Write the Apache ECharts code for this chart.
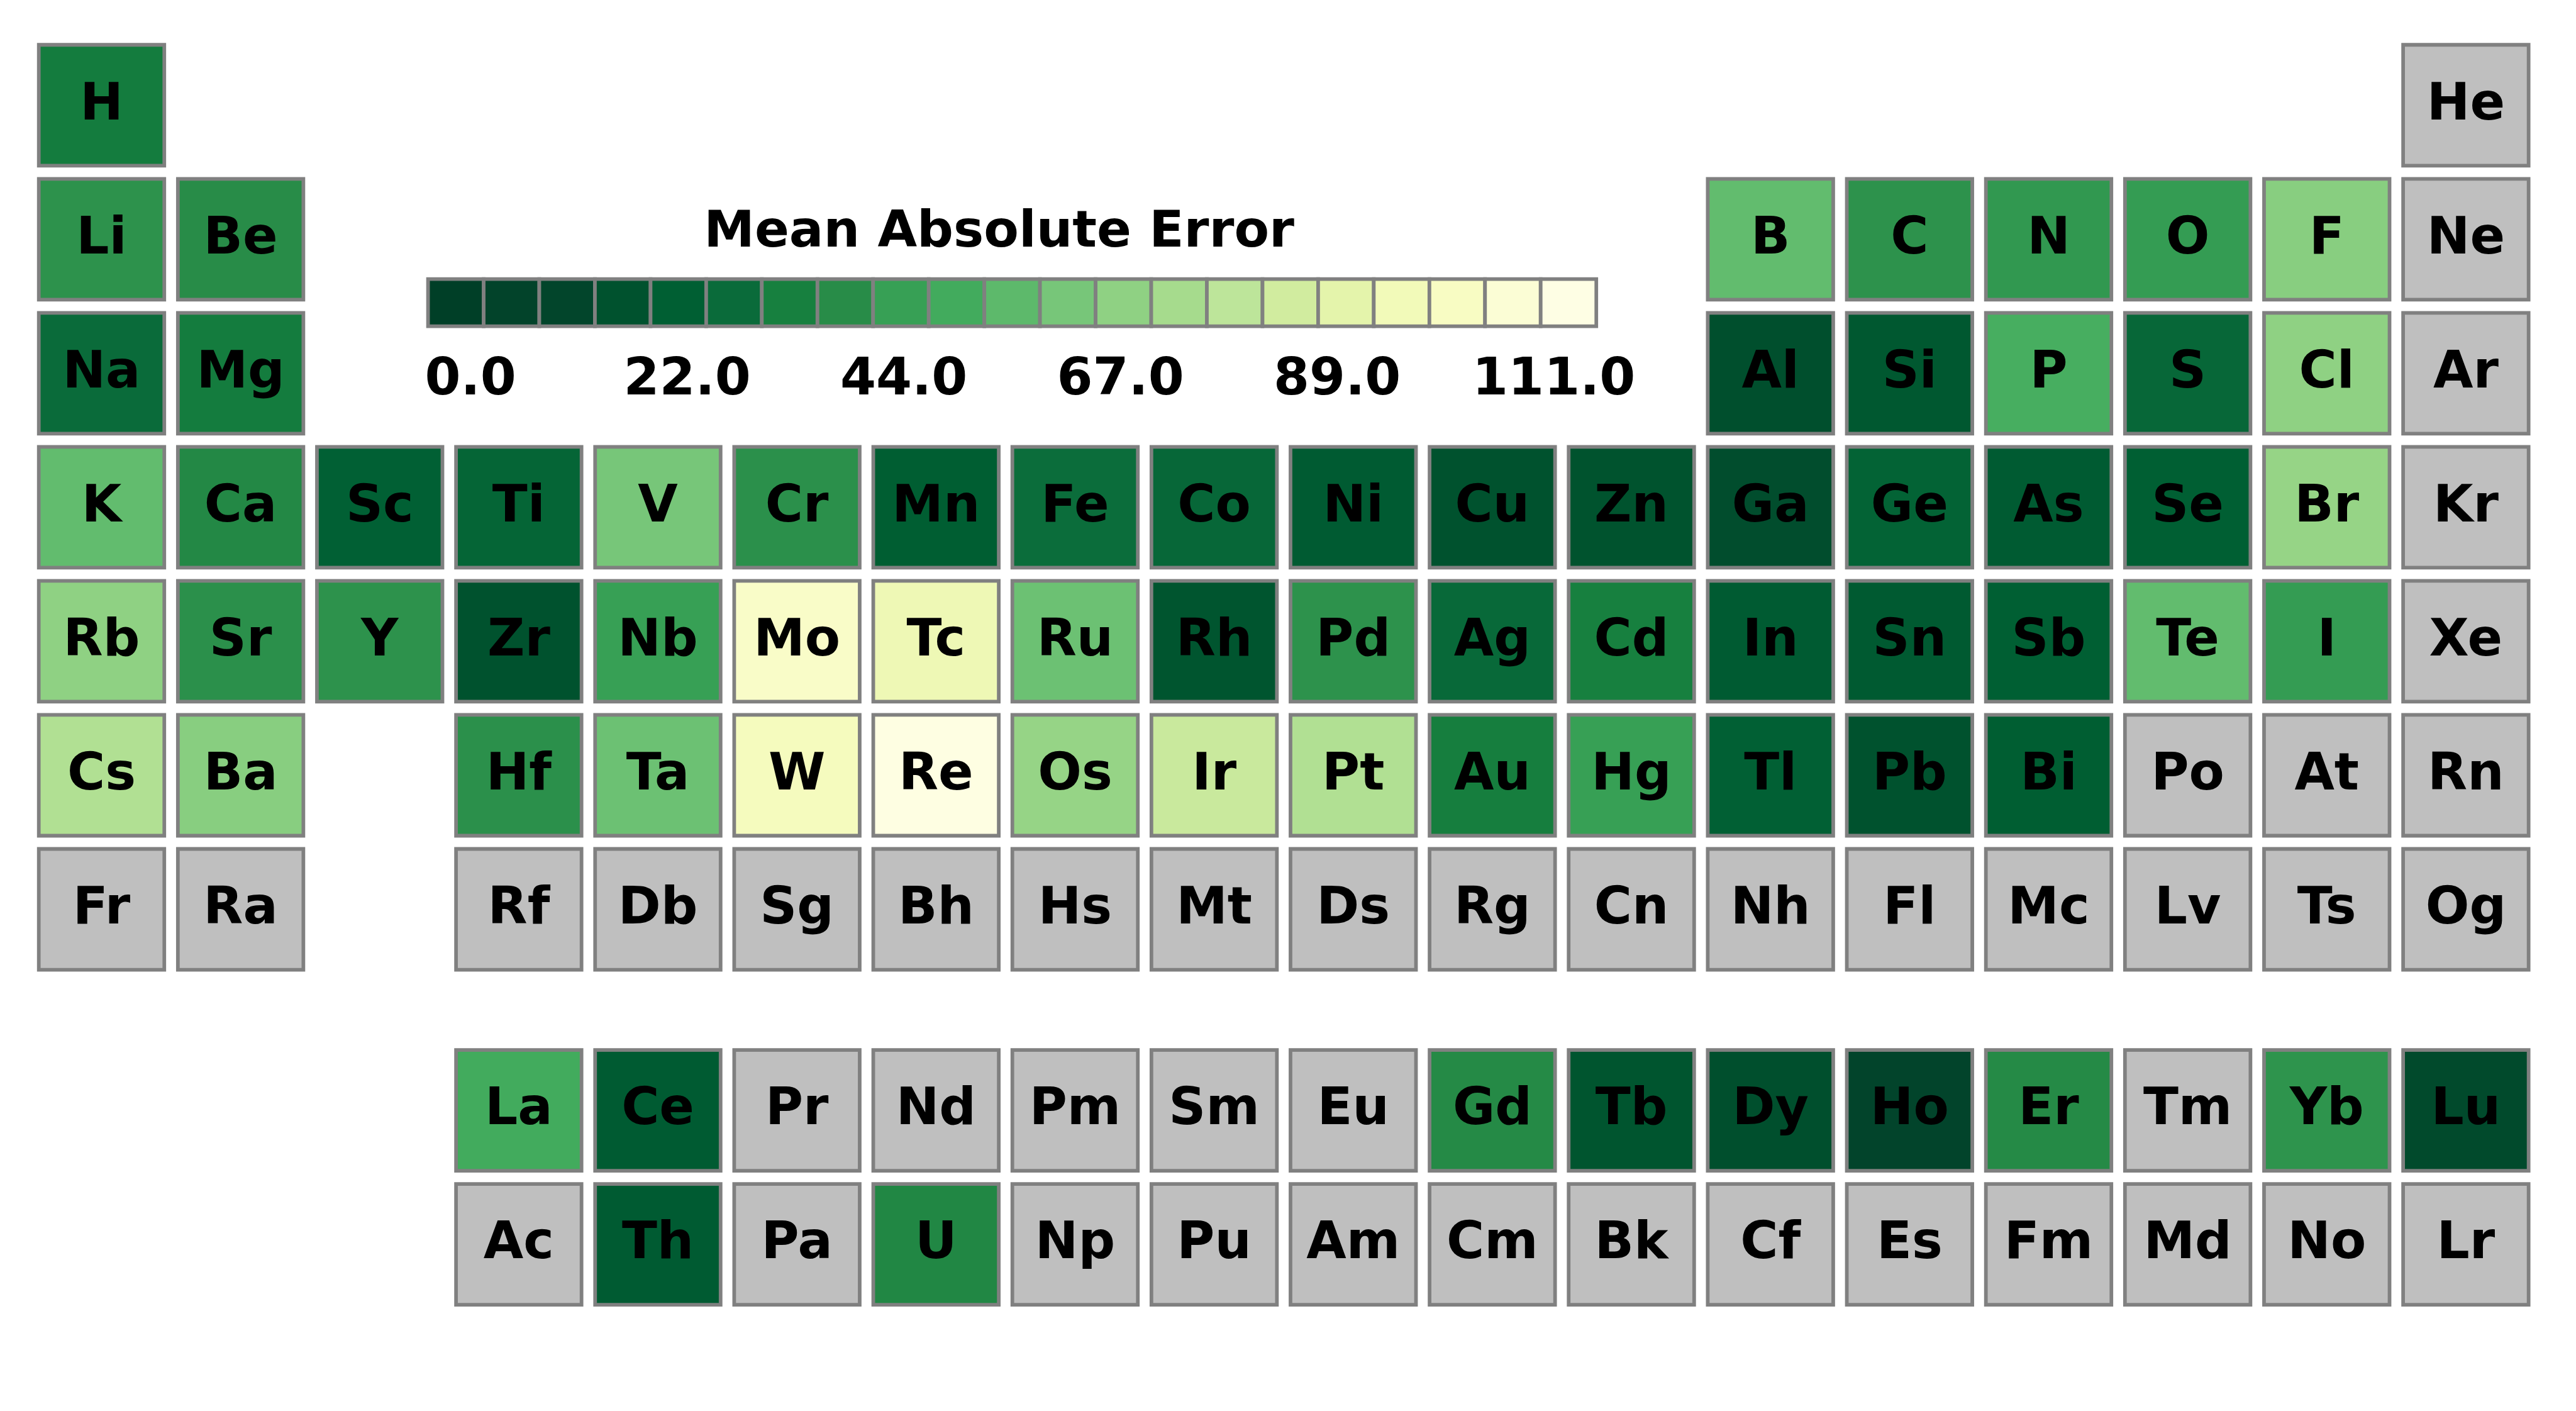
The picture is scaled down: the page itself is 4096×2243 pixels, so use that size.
<!DOCTYPE html>
<html>
<head>
<meta charset="utf-8">
<script src="https://cdn.jsdelivr.net/npm/echarts@6/dist/echarts.min.js"></script>
<style>
html,body{margin:0;padding:0;background:#fff;}
#chart{width:4096px;height:2243px;}
</style>
</head>
<body>
<div id="chart"></div>
<script>
// ---------- data ----------
const symbols = [
  'H','He',
  'Li','Be','B','C','N','O','F','Ne',
  'Na','Mg','Al','Si','P','S','Cl','Ar',
  'K','Ca','Sc','Ti','V','Cr','Mn','Fe','Co','Ni','Cu','Zn','Ga','Ge','As','Se','Br','Kr',
  'Rb','Sr','Y','Zr','Nb','Mo','Tc','Ru','Rh','Pd','Ag','Cd','In','Sn','Sb','Te','I','Xe',
  'Cs','Ba','Hf','Ta','W','Re','Os','Ir','Pt','Au','Hg','Tl','Pb','Bi','Po','At','Rn',
  'Fr','Ra','Rf','Db','Sg','Bh','Hs','Mt','Ds','Rg','Cn','Nh','Fl','Mc','Lv','Ts','Og',
  'La','Ce','Pr','Nd','Pm','Sm','Eu','Gd','Tb','Dy','Ho','Er','Tm','Yb','Lu',
  'Ac','Th','Pa','U','Np','Pu','Am','Cm','Bk','Cf','Es','Fm','Md','No','Lr'
];
const groups = [
  0,17,
  0,1,12,13,14,15,16,17,
  0,1,12,13,14,15,16,17,
  0,1,2,3,4,5,6,7,8,9,10,11,12,13,14,15,16,17,
  0,1,2,3,4,5,6,7,8,9,10,11,12,13,14,15,16,17,
  0,1,3,4,5,6,7,8,9,10,11,12,13,14,15,16,17,
  0,1,3,4,5,6,7,8,9,10,11,12,13,14,15,16,17,
  3,4,5,6,7,8,9,10,11,12,13,14,15,16,17,
  3,4,5,6,7,8,9,10,11,12,13,14,15,16,17
];
const periods = [
  0,0,
  1,1,1,1,1,1,1,1,
  2,2,2,2,2,2,2,2,
  3,3,3,3,3,3,3,3,3,3,3,3,3,3,3,3,3,3,
  4,4,4,4,4,4,4,4,4,4,4,4,4,4,4,4,4,4,
  5,5,5,5,5,5,5,5,5,5,5,5,5,5,5,5,5,
  6,6,6,6,6,6,6,6,6,6,6,6,6,6,6,6,6,
  7.5,7.5,7.5,7.5,7.5,7.5,7.5,7.5,7.5,7.5,7.5,7.5,7.5,7.5,7.5,
  8.5,8.5,8.5,8.5,8.5,8.5,8.5,8.5,8.5,8.5,8.5,8.5,8.5,8.5,8.5
];
const mae = [
  31.5,null,
  40.1,38.3,56.6,40.1,41.8,43.0,65.2,null,
  26.9,31.5,14.3,18.3,50.9,25.2,66.9,null,
  56.6,36.6,21.8,24.0,61.2,39.5,20.6,27.5,25.2,19.5,15.5,16.0,13.2,22.9,19.5,21.2,68.7,null,
  66.9,39.5,40.1,15.5,44.1,103.0,93.8,58.9,16.6,40.1,25.8,32.6,19.5,18.9,21.2,56.6,43.0,null,
  75.5,65.2,39.5,58.9,98.4,112.0,68.7,81.8,75.5,32.0,44.1,21.8,15.5,20.6,null,null,null,
  null,null,null,null,null,null,null,null,null,null,null,null,null,null,null,null,null,
  49.8,19.5,null,null,null,null,null,37.2,16.6,14.3,6.9,37.2,null,40.6,12.0,
  null,19.5,null,36.1,null,null,null,null,null,null,null,null,null,null,null
];
// colour scale (21 steps, dark -> light)
const scaleColors = [
  '#003f27','#02432a','#02452b','#00522e','#005f33','#0a6b3a','#17803f','#288c48','#37a055','#42ab5d',
  '#5db96b','#77c679','#8fd183','#a6db8d','#bde59a','#d1ec9f','#e4f4ab','#f2fab9','#f8fcc3','#fbfdd5','#fefee4'
];
const scaleMin = -4.35, scaleMax = 115.35;
const tickValues = [0, 22.2, 44.4, 66.6, 88.8, 111];
const tickLabels = ['0.0','22.0','44.0','67.0','89.0','111.0'];
const legendTitle = 'Mean Absolute Error';

// ---------- chart ----------
const S = 0.964;
const FONT = '"DejaVu Sans", "Liberation Sans", sans-serif';
const cellFrac = 0.9285;
const lw = 6 * S;
const binW = (scaleMax - scaleMin) / scaleColors.length;
const cbData = scaleColors.map((c, k) => [scaleMin + k * binW, scaleMin + (k + 1) * binW, k]);

const chart = echarts.init(document.getElementById('chart'), null, {renderer: 'canvas'});
chart.setOption({
  backgroundColor: '#ffffff',
  animation: false,
  grid: [
    {left: 52.8 * S, right: 4096 - 4182 * S, top: 63 * S, bottom: 2243 - 2162.5 * S},
    {left: 706 * S, right: 4096 - 2633 * S, top: 460.3 * S, bottom: 2243 - 538 * S}
  ],
  xAxis: [
    {type: 'value', gridIndex: 0, min: -0.5, max: 17.5, show: false},
    {type: 'value', gridIndex: 1, min: scaleMin, max: scaleMax,
     axisLine: {show: false}, axisTick: {show: false}, splitLine: {show: false},
     axisLabel: {customValues: tickValues, margin: 46, fontSize: 82, fontWeight: 'bold', fontFamily: FONT, color: '#000',
       formatter: function (v) { const i = tickValues.indexOf(v); return i >= 0 ? tickLabels[i] : ''; }}}
  ],
  yAxis: [
    {type: 'value', gridIndex: 0, min: -0.5, max: 9.0, inverse: true, show: false},
    {type: 'value', gridIndex: 1, min: 0, max: 1, show: false}
  ],
  visualMap: {
    type: 'continuous', show: false, seriesIndex: 0, dimension: 2,
    min: -1.7, max: 112.7, inRange: {color: scaleColors}
  },
  graphic: [{
    type: 'text', x: 1648 * S, y: 376 * S + 8,
    style: {text: legendTitle, fontSize: 81, fontWeight: 'bold', fontFamily: FONT, fill: '#000',
            align: 'center', verticalAlign: 'middle', textAlign: 'center', textVerticalAlign: 'middle'}
  }],
  series: [
    {
      type: 'custom', xAxisIndex: 0, yAxisIndex: 0,
      data: symbols.map((s, i) => [groups[i], periods[i], mae[i] == null ? '-' : mae[i]]),
      renderItem: function (params, api) {
        const c = api.coord([api.value(0), api.value(1)]);
        const sz = api.size([1, 1]);
        const w = sz[0] * cellFrac, h = sz[1] * cellFrac;
        const v = api.value(2);
        const fill = (v == null || isNaN(v)) ? '#bfbfbf' : api.visual('color');
        return {
          type: 'group',
          children: [
            {type: 'rect', shape: {x: c[0] - w / 2 + lw / 2, y: c[1] - h / 2 + lw / 2, width: w - lw, height: h - lw},
             style: {fill: fill, stroke: '#808080', lineWidth: lw}},
            {type: 'text', x: c[0], y: c[1] + 1,
             style: {text: symbols[params.dataIndex], fontSize: 82, fontWeight: 'bold', fontFamily: FONT, fill: '#000',
                     align: 'center', verticalAlign: 'middle', textAlign: 'center', textVerticalAlign: 'middle'}}
          ]
        };
      }
    },
    {
      type: 'custom', xAxisIndex: 1, yAxisIndex: 1,
      data: cbData,
      renderItem: function (params, api) {
        const p0 = api.coord([api.value(0), 1]);
        const p1 = api.coord([api.value(1), 0]);
        return {
          type: 'rect',
          shape: {x: p0[0], y: p0[1], width: p1[0] - p0[0], height: p1[1] - p0[1]},
          style: {fill: scaleColors[api.value(2)], stroke: '#808080', lineWidth: lw}
        };
      }
    }
  ]
});
</script>
</body>
</html>
